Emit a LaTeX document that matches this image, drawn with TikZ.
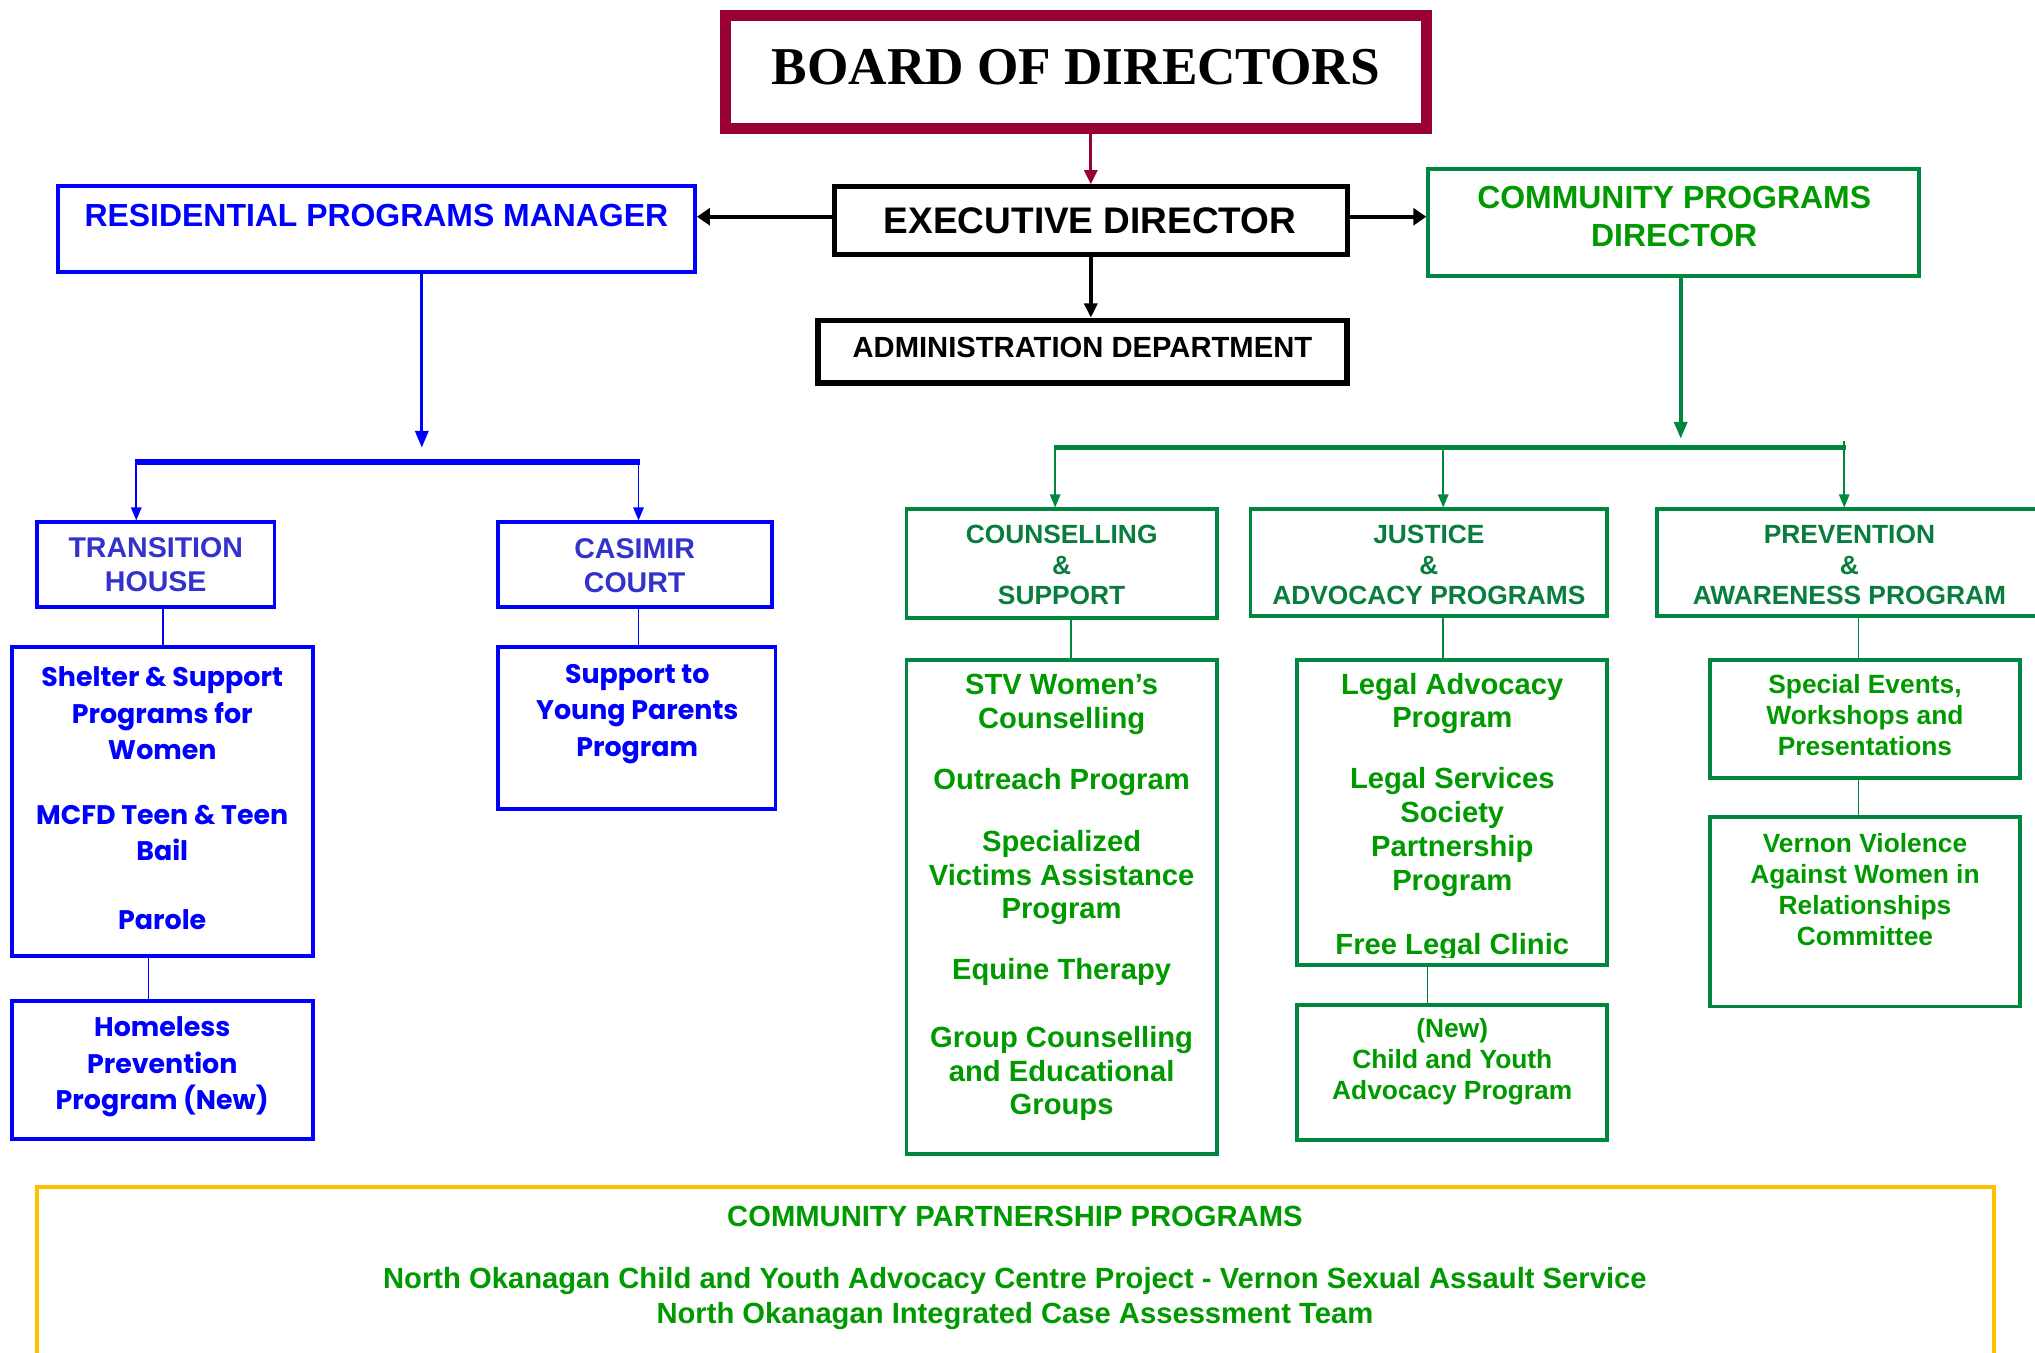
\documentclass[tikz,border=0pt]{standalone}
\usepackage{fontspec}
\setmainfont{Liberation Sans}
\newfontfamily\timesf{Liberation Serif}
\newfontfamily\gothic{Poppins}
\usetikzlibrary{arrows.meta,fit,calc}
\definecolor{cMaroon}{HTML}{990033}
\definecolor{cBlue}{HTML}{0000FF}
\definecolor{cTH}{HTML}{3333CC}
\definecolor{cGLine}{HTML}{00873F}
\definecolor{cGHead}{HTML}{087D3D}
\definecolor{cGText}{HTML}{009900}
\definecolor{cGold}{HTML}{FFC000}
\begin{document}
\begin{tikzpicture}[x=1pt,y=-1pt,
  box/.style={draw, inner sep=0pt, fill=none},
  bluebox/.style={box, draw=cBlue, line width=3pt},
  greenbox/.style={box, draw=cGLine, line width=3pt},
  blackbox/.style={box, draw=black, line width=4pt},
  txt/.style={inner sep=0pt, align=center},
  bluetxt/.style={txt, text=cBlue, font=\gothic\bfseries\fontsize{20.7}{28}\selectfont},
  thtxt/.style={txt, text=cTH, font=\bfseries\fontsize{22}{26}\selectfont},
  ghead/.style={txt, text=cGHead, font=\bfseries\fontsize{20.3}{23.5}\selectfont},
  gbody/.style={txt, text=cGText, font=\bfseries\fontsize{22.5}{26}\selectfont},
  gsmall/.style={txt, text=cGText, font=\bfseries\fontsize{20.3}{23.8}\selectfont},
  bline/.style={draw=cBlue, line width=1.3pt},
  gline/.style={draw=cGLine, line width=1.3pt},
  smallarr/.style={-{Triangle[length=10pt,width=8pt]}},
]
\useasboundingbox (0,0) rectangle (1568,1042);

% ---------- top level ----------
\node[box, draw=cMaroon, line width=8pt, fit={(559,12) (1099,99)}] (board) {};
\node[txt, font=\timesf\bfseries\fontsize{41}{41}\selectfont] (boardt) at (829,52) {BOARD OF DIRECTORS};

\node[blackbox, fit={(643,144) (1038,196)}] (exec) {};
\node[txt, font=\bfseries\fontsize{28.5}{30}\selectfont] (exect) at (840,170) {EXECUTIVE DIRECTOR};

\node[blackbox, line width=4.5pt, fit={(630,247) (1038,295)}] (admin) {};
\node[txt, font=\bfseries\fontsize{22.5}{24}\selectfont] (admint) at (834,268) {ADMINISTRATION DEPARTMENT};

\node[bluebox, fit={(44.5,143.5) (535.5,209.5)}] (rpm) {};
\node[txt, text=cBlue, font=\bfseries\fontsize{24.6}{26}\selectfont] (rpmt) at (290,166) {RESIDENTIAL PROGRAMS MANAGER};

\node[greenbox, fit={(1100.5,130.5) (1478.5,212.5)}] (cpd) {};
\node[txt, text=cGText, font=\bfseries\fontsize{24.6}{29}\selectfont] (cpdt) at (1290,167) {COMMUNITY PROGRAMS\\DIRECTOR};

% connectors top
\draw[draw=cMaroon, line width=2.5pt, -{Triangle[length=11pt,width=10pt]}] (exec.north |- board.south) -- (exec.north);
\draw[line width=3.3pt, -{Triangle[length=10pt,width=13pt]}] (exec.west |- 0,167) coordinate (el) -- (el -| rpm.east);
\draw[line width=3.3pt, -{Triangle[length=10pt,width=13pt]}] (exec.east |- 0,167) coordinate (er) -- (er -| cpd.west);
\draw[line width=3pt, -{Triangle[length=11pt,width=10pt]}] (exec.south) -- (exec.south |- admin.north);

% ---------- residential branch ----------
\coordinate (rarr) at (325,345);
\coordinate (rbl) at (105,356);
\coordinate (rbr) at (492,356);
\draw[draw=cBlue, line width=2.6pt, -{Triangle[length=13pt,width=10pt]}] (rpm.south -| rarr) -- (rarr);
\draw[draw=cBlue, line width=4pt] ($(rbl)+(-1,0)$) -- ($(rbr)+(1,0)$);

\node[bluebox, fit={(28.5,402.5) (211.5,467.5)}] (th) {};
\node[thtxt] (tht) at (120,435) {TRANSITION\\HOUSE};
\node[bluebox, fit={(383.5,402.5) (594.5,467.5)}] (cc) {};
\node[thtxt] (cct) at (489,436) {CASIMIR\\COURT};

\draw[bline, smallarr] (rbl) -- (rbl |- th.north);
\draw[bline, smallarr] (rbr) -- (rbr |- cc.north);

\node[bluebox, fit={(9.5,498.5) (241.5,736.5)}] (shelter) {};
\node[bluetxt] (sheltert) at (125,615) {Shelter \& Support\\Programs for\\Women\\[22pt]MCFD Teen \& Teen\\Bail\\[25pt]Parole};
\node[bluebox, fit={(9.5,771.5) (241.5,877.5)}] (homeless) {};
\node[bluetxt] (homelesst) at (125,822) {Homeless\\Prevention\\Program (New)};
\node[bluebox, fit={(383.5,498.5) (597.5,623.5)}] (sup) {};
\node[bluetxt] (supt) at (491,550) {Support to\\Young Parents\\Program};

\draw[bline] (th.south -| shelter.north) -- (shelter.north);
\draw[bline] ($(shelter.south)+(-11,0)$) coordinate (s1) -- (s1 |- homeless.north);
\draw[bline] (cc.south -| rbr) coordinate (c1) -- (c1 |- sup.north);

% ---------- community branch ----------
\coordinate (garr) at (1295,338);
\coordinate (gbl) at (813,345);
\coordinate (gbm) at (1112,345);
\coordinate (gbr) at (1421,345);
\draw[draw=cGLine, line width=2.8pt, -{Triangle[length=13pt,width=10pt]}] (cpd.south -| garr) -- (garr);
\draw[draw=cGLine, line width=4pt] ($(gbl)+(-1,0)$) -- ($(gbr)+(1,0)$);

\node[greenbox, fit={(698.5,392.5) (937.5,476.5)}] (couns) {};
\node[ghead] (counst) at (818,435.5) {COUNSELLING\\\&\\SUPPORT};
\node[greenbox, fit={(963.5,392.5) (1238.5,474.5)}] (just) {};
\node[ghead] (justt) at (1101,435.5) {JUSTICE\\\&\\ADVOCACY PROGRAMS};
\node[greenbox, fit={(1276.5,392.5) (1580,474.5)}] (prev) {};
\node[ghead] (prevt) at (1425,435.5) {PREVENTION\\\&\\AWARENESS PROGRAM};

\draw[gline, smallarr] (gbl) -- (gbl |- couns.north);
\draw[gline, smallarr] (gbm) -- (gbm |- just.north);
\draw[gline, smallarr] (gbr |- 0,340) coordinate (g3) -- (g3 |- prev.north);

\node[greenbox, fit={(698.5,508.5) (937.5,889.5)}] (stv) {};
\node[gbody] (stvt) at (818,691.5) {STV Women’s\\Counselling\\[21pt]Outreach Program\\[22pt]Specialized\\Victims Assistance\\Program\\[21pt]Equine Therapy\\[26pt]Group Counselling\\and Educational\\Groups};

\node[greenbox, fit={(999.5,508.5) (1238.5,743.5)}] (legal) {};
\begin{scope}
\clip (1001,510) rectangle (1237,737.5);
\node[gbody] (legalt) at (1119,629.5) {Legal Advocacy\\Program\\[21pt]Legal Services\\Society\\Partnership\\Program\\[24pt]Free Legal Clinic};
\end{scope}
\node[greenbox, fit={(999.5,774.5) (1238.5,878.5)}] (newb) {};
\node[gsmall] (newt) at (1119,818) {(New)\\Child and Youth\\Advocacy Program};

\node[greenbox, fit={(1317.5,508.5) (1556.5,599.5)}] (spec) {};
\node[gsmall] (spect) at (1437,551) {Special Events,\\Workshops and\\Presentations};
\node[greenbox, fit={(1317.5,629.5) (1556.5,775.5)}] (vern) {};
\node[gsmall] (vernt) at (1437,685.5) {Vernon Violence\\Against Women in\\Relationships\\Committee};

\draw[gline] ($(couns.south)+(7,0)$) coordinate (k1) -- (k1 |- stv.north);
\draw[gline] (just.south -| gbm) coordinate (k2) -- (k2 |- legal.north);
\draw[gline] ($(legal.south)+(-19,0)$) coordinate (k3) -- (k3 |- newb.north);
\draw[gline] (prev.south -| 1432,0) coordinate (k4) -- (k4 |- spec.north);
\draw[gline] (spec.south -| k4) coordinate (k5) -- (k5 |- vern.north);

% ---------- partnership ----------
\node[box, draw=cGold, line width=3.5pt, fit={(28.5,914.5) (1536.5,1060)}] (partner) {};
\node[txt, text=cGText, font=\bfseries\fontsize{22.5}{26}\selectfont] (partnert) at (782,937) {COMMUNITY PARTNERSHIP PROGRAMS};
\node[txt, text=cGText, font=\bfseries\fontsize{22.5}{27}\selectfont] (partnerl) at (782,1000.5) {North Okanagan Child and Youth Advocacy Centre Project - Vernon Sexual Assault Service\\North Okanagan Integrated Case Assessment Team};
\end{tikzpicture}
\end{document}
